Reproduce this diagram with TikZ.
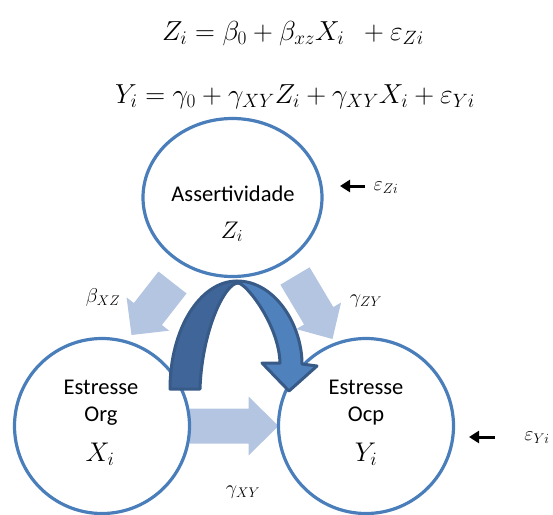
\RequirePackage{fix-cm}
\documentclass[tikz,border=0pt]{standalone}
\usepackage[no-math]{fontspec}
\setmainfont{Carlito}
\usetikzlibrary{calc,shapes.geometric,arrows.meta}
\pgfdeclarelayer{background}
\pgfsetlayers{background,main}
\definecolor{ringblue}{HTML}{4A7EBB}
\definecolor{paleblue}{HTML}{B3C5E0}
\definecolor{darkband}{HTML}{3F6599}
\definecolor{midband}{HTML}{4F81BD}
\definecolor{bandline}{HTML}{375A87}
% #1 start, #2 end, #3 shaft half width, #4 head half width, #5 head length
\newcommand\blockarrow[5]{%
  \coordinate (tmpb) at ($(#2)!#5!(#1)$);
  \fill[pale] ($(#1)!#3!90:(#2)$) -- ($(tmpb)!#3!90:(#2)$) -- ($(tmpb)!#4!90:(#2)$)
    -- (#2) -- ($(tmpb)!#4!-90:(#2)$) -- ($(tmpb)!#3!-90:(#2)$) -- ($(#1)!#3!-90:(#2)$) -- cycle;}
\begin{document}
\begin{tikzpicture}[x=1pt,y=-1pt,
  ring/.style={draw=ringblue, line width=3.2pt, inner sep=0pt, outer sep=0pt},
  txt/.style={font=\fontsize{22.5}{27}\selectfont, anchor=base, inner sep=0pt},
  eqn/.style={font=\fontsize{27.5}{32}\selectfont, anchor=base, inner sep=0pt},
  mathin/.style={font=\fontsize{24}{28}\selectfont, anchor=base, inner sep=0pt},
  mathbig/.style={font=\fontsize{27}{32}\selectfont, anchor=base, inner sep=0pt},
  lbl/.style={font=\fontsize{20}{24}\selectfont, inner sep=0pt},
  pale/.style={fill=paleblue},
  band/.style={draw=bandline, line width=3pt, line join=round},
  errarrow/.style={-{Triangle[length=10pt,width=12pt]}, line width=3pt, black}]
\useasboundingbox (0,0) rectangle (553,514);

% equations
\node[eqn] (eq1) at (293,40) {$Z_i=\beta_0+\beta_{xz}X_i\enskip+\varepsilon_{Zi}$};
\node[eqn] (eq2) at (295,103) {$Y_i=\gamma_0+\gamma_{XY}Z_i+\gamma_{XY}X_i+\varepsilon_{Yi}$};

% variables
\node[ring, ellipse, minimum width=179pt, minimum height=158pt] (Z) at (232.5,197.5) {};
\node[ring, circle, minimum size=175pt] (X) at (102,426) {};
\node[ring, circle, minimum size=175pt] (Y) at (366,426) {};

% pale block arrows behind the rings
\begin{pgfonlayer}{background}
\coordinate (bxzS) at (172.5,282.5);
\coordinate (bxzE) at (131.5,335);
\coordinate (gzyS) at (295,276);
\coordinate (gzyE) at (332.5,339);
\blockarrow{bxzS}{bxzE}{17.8pt}{27pt}{26.6pt}
\blockarrow{gzyS}{gzyE}{17pt}{26pt}{27pt}
\blockarrow{X.east}{Y.west}{17.5pt}{29.5pt}{30pt}
\end{pgfonlayer}

% curved arrow
\draw[band, fill=midband] (237,281) .. controls (275,281) and (302,325) .. (302,364)
  -- (317,366) -- (289,391) -- (262,363) -- (280,363)
  .. controls (279,325) and (246,283) .. (238,283) -- cycle;
\draw[band, fill=darkband] (170,389) .. controls (170,329) and (200,281) .. (237,281)
  -- (238,283) .. controls (225,283) and (202,330) .. (200,389) -- cycle;

% texts in rings
\node[txt] (ztxt) at (233,201) {Assertividade};
\node[mathin] (zvar) at (232,238) {$Z_i$};
\node[txt] (xt1) at (101,394) {Estresse};
\node[txt] (xt2) at (101,421) {Org};
\node[mathbig] (xvar) at (100,461) {$X_i$};
\node[txt] (yt1) at (366,394) {Estresse};
\node[txt] (yt2) at (366,421) {Ocp};
\node[mathbig] (yvar) at (366,461) {$Y_i$};

% path labels
\node[lbl] (lbxz) at (103,297) {$\beta_{XZ}$};
\node[lbl] (lgzy) at (366,301) {$\gamma_{ZY}$};
\node[lbl] (lgxy) at (243,492) {$\gamma_{XY}$};

% error terms
\node[lbl] (ez) at (386,188) {$\varepsilon_{Zi}$};
\node[lbl] (ey) at (537,438) {$\varepsilon_{Yi}$};
\coordinate (ezS) at (365,186);
\coordinate (ezE) at (340,186);
\coordinate (eyS) at (495,437);
\coordinate (eyE) at (469,437);
\draw[errarrow] (ezS) -- (ezE);
\draw[errarrow] (eyS) -- (eyE);
\end{tikzpicture}
\end{document}
